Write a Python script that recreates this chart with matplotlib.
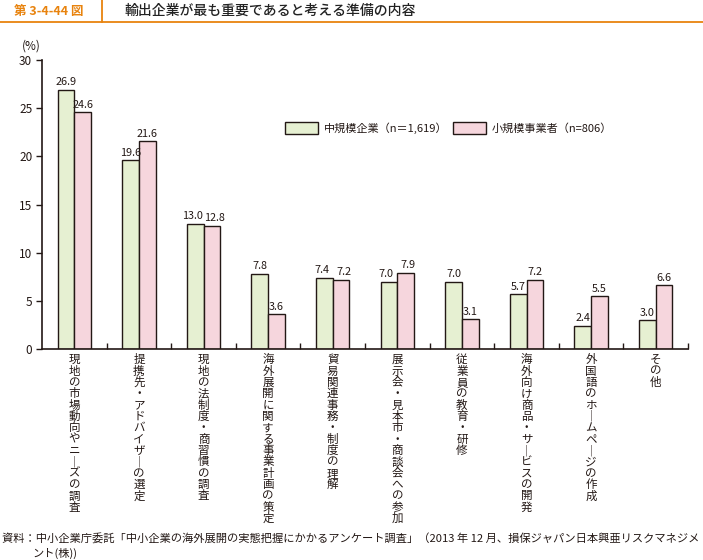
import matplotlib
matplotlib.use("Agg")
import matplotlib.pyplot as plt
from matplotlib.patches import Patch
from matplotlib.lines import Line2D
import numpy as np

plt.rcParams["font.family"] = ["Noto Sans CJK JP", "DejaVu Sans"]

categories = [
    "現地の市場動向やニーズの調査",
    "提携先・アドバイザーの選定",
    "現地の法制度・商習慣の調査",
    "海外展開に関する事業計画の策定",
    "貿易関連事務・制度の理解",
    "展示会・見本市・商談会への参加",
    "従業員の教育・研修",
    "海外向け商品・サービスの開発",
    "外国語のホームページの作成",
    "その他",
]
medium = [26.9, 19.6, 13.0, 7.8, 7.4, 7.0, 7.0, 5.7, 2.4, 3.0]
small = [24.6, 21.6, 12.8, 3.6, 7.2, 7.9, 3.1, 7.2, 5.5, 6.6]
series_names = ["中規模企業（n＝1,619）", "小規模事業者（n=806）"]
yticks = [0, 5, 10, 15, 20, 25, 30]

GREEN = "#e6f0d2"
PINK = "#f6d6dd"
EDGE = "#231815"
ORANGE = "#e8830e"
TEXT = "#231815"

fig = plt.figure(figsize=(7.03, 5.6), dpi=100)
ax = fig.add_axes([42 / 703, 1 - 349 / 560, (688 - 42) / 703, (349 - 60) / 560])

x = np.arange(len(categories))
w = 0.26
b1 = ax.bar(x - w / 2, medium, w, color=GREEN, edgecolor=EDGE, linewidth=1.0)
b2 = ax.bar(x + w / 2, small, w, color=PINK, edgecolor=EDGE, linewidth=1.0)

for i in range(len(categories)):
    close = abs(medium[i] - small[i]) < 1.5
    nudge = 0.04 if close else 0.0
    ax.text(x[i] - w / 2 - nudge, medium[i] + 0.25, f"{medium[i]:.1f}",
            ha="center", va="bottom", fontsize=7.8, color=TEXT)
    ax.text(x[i] + w / 2 + nudge, small[i] + 0.25, f"{small[i]:.1f}",
            ha="center", va="bottom", fontsize=7.8, color=TEXT)

ax.set_xlim(-0.5, len(categories) - 0.5)
ax.set_ylim(0, 30)
ax.set_yticks(yticks)
ax.set_yticklabels([str(t) for t in yticks], fontsize=8.5, color=TEXT)
ax.tick_params(axis="y", direction="out", length=4, width=1, colors=EDGE, pad=3)
ax.set_xticks(np.arange(len(categories)) + 0.5)
ax.set_xticklabels([])
ax.tick_params(axis="x", direction="in", length=4, width=1, colors=EDGE)
for s in ("top", "right"):
    ax.spines[s].set_visible(False)
for s in ("left", "bottom"):
    ax.spines[s].set_color(EDGE)
    ax.spines[s].set_linewidth(1.2)

# vertical category labels, one character at a time
step = 11.36  # px per character
fs = 8.3
em = fs * 100 / 72
for i, c in enumerate(categories):
    for k, ch in enumerate(c.replace("ー", "｜")):
        off = -(4 + step * k + 0.88 * em) * 0.72
        ax.annotate(ch, xy=(i, 0), xycoords="data", xytext=(0, off),
                    textcoords="offset points", ha="center", va="baseline",
                    fontsize=fs, color=TEXT, annotation_clip=False)

fig.text(22 / 703, 1 - 46 / 560, "(%)", fontsize=8.5, color=TEXT, va="center")

handles = [Patch(facecolor=GREEN, edgecolor=EDGE, linewidth=1.0),
           Patch(facecolor=PINK, edgecolor=EDGE, linewidth=1.0)]
fig.legend(handles, series_names, loc="center left",
           bbox_to_anchor=(275 / 703, 1 - 128 / 560), ncol=2, frameon=False,
           fontsize=8, handlelength=3.0, handleheight=1.25,
           handletextpad=0.5, columnspacing=0.5, labelcolor=TEXT)

# header
fig.add_artist(Line2D([0, 1], [1 - 22 / 560] * 2, color=ORANGE, lw=1.3))
fig.add_artist(Line2D([102 / 703] * 2, [1 - 22 / 560, 1], color=ORANGE, lw=1.3))
fig.text(14 / 703, 1 - 11 / 560, "第 3-4-44 図", color=ORANGE, fontsize=9,
         fontweight="bold", va="center")
fig.text(124 / 703, 1 - 11 / 560, "輸出企業が最も重要であると考える準備の内容",
         color="#222222", fontsize=10, fontweight="medium", va="center")

# source
fig.text(2 / 703, 1 - 538 / 560,
         "資料：中小企業庁委託「中小企業の海外展開の実態把握にかかるアンケート調査」（2013 年 12 月、損保ジャパン日本興亜リスクマネジメ",
         fontsize=8.1, color=TEXT, va="center")
fig.text(32 / 703, 1 - 553 / 560, "ント(株))", fontsize=8.1, color=TEXT,
         va="center")

fig.savefig("out.png", dpi=100)
